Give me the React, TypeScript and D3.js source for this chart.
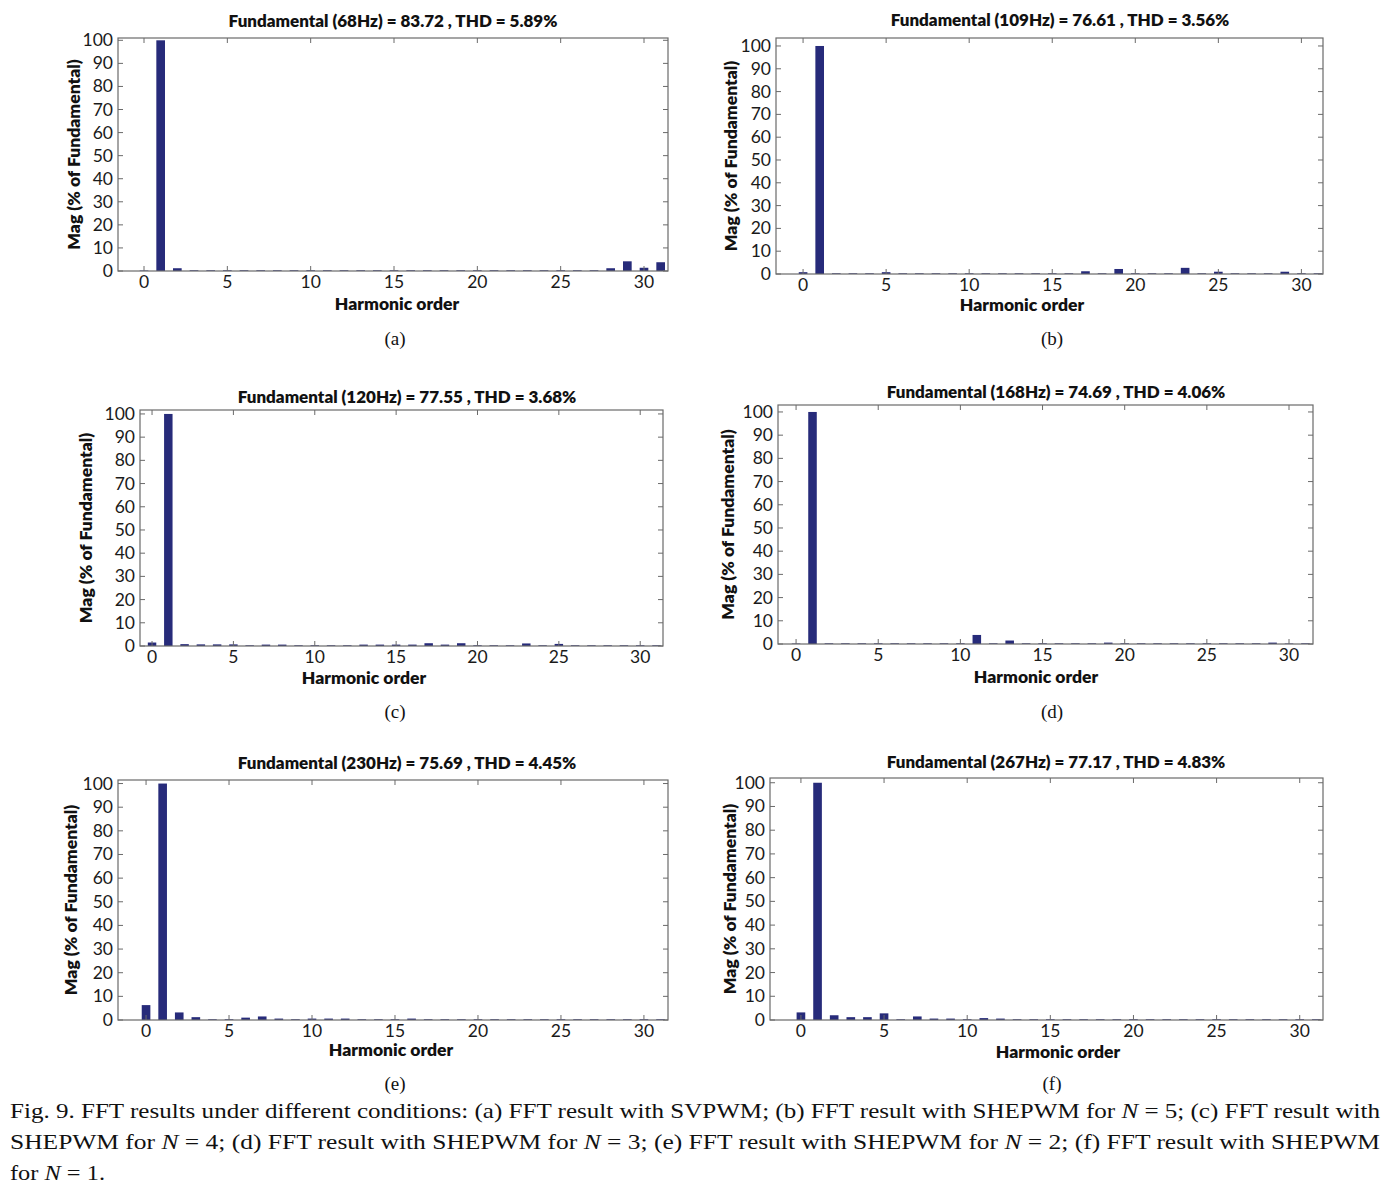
import * as d3 from 'd3';

// harmonic order 0..31 for every spectrum
const harmonicOrders = [0, 1, 2, 3, 4, 5, 6, 7, 8, 9, 10, 11, 12, 13, 14, 15, 16, 17, 18, 19, 20, 21, 22, 23, 24, 25, 26, 27, 28, 29, 30, 31];
const xTicks = [0, 5, 10, 15, 20, 25, 30];
const yTicks = [0, 10, 20, 30, 40, 50, 60, 70, 80, 90, 100];

const magA = [0.2, 100, 1.2, 0.3, 0.3, 0.3, 0.3, 0.3, 0.3, 0.3, 0.3, 0.3, 0.3, 0.3, 0.3, 0.3, 0.3, 0.3, 0.3, 0.3, 0.3, 0.3, 0.3, 0.3, 0.3, 0.3, 0.3, 0.3, 1.2, 4.2, 1.4, 3.8];
const magB = [0.8, 100, 0.3, 0.3, 0.3, 0.8, 0.3, 0.3, 0.3, 0.3, 0.3, 0.3, 0.3, 0.3, 0.3, 0.3, 0.3, 1.2, 0.3, 2.2, 0.3, 0.3, 0.3, 2.7, 0.3, 1.0, 0.3, 0.3, 0.3, 1.0, 0.3, 0.3];
const magC = [1.5, 100, 0.8, 0.7, 0.7, 0.7, 0.3, 0.6, 0.6, 0.3, 0.3, 0.3, 0.3, 0.6, 0.6, 0.6, 0.6, 1.2, 0.6, 1.2, 0.3, 0.3, 0.3, 1.1, 0.3, 0.9, 0.3, 0.3, 0.3, 0.3, 0.3, 0.3];
const magD = [0.2, 100, 0.3, 0.3, 0.3, 0.3, 0.3, 0.3, 0.3, 0.3, 0.3, 3.9, 0.3, 1.5, 0.3, 0.3, 0.3, 0.3, 0.3, 0.6, 0.3, 0.3, 0.3, 0.3, 0.3, 0.3, 0.3, 0.3, 0.3, 0.6, 0.2, 0.3];
const magE = [6.3, 100, 3.2, 1.2, 0.3, 0.3, 1.0, 1.5, 0.6, 0.3, 0.6, 0.6, 0.6, 0.3, 0.3, 0.3, 0.6, 0.3, 0.3, 0.3, 0.3, 0.3, 0.3, 0.3, 0.3, 0.3, 0.3, 0.3, 0.3, 0.3, 0.3, 0.3];
const magF = [3.2, 100, 2.0, 1.2, 1.2, 2.8, 0.3, 1.5, 0.6, 0.6, 0.3, 0.8, 0.6, 0.3, 0.3, 0.3, 0.3, 0.3, 0.3, 0.3, 0.3, 0.3, 0.3, 0.3, 0.3, 0.3, 0.3, 0.3, 0.3, 0.3, 0.3, 0.3];

const titles = [
  'Fundamental (68Hz) = 83.72 , THD = 5.89%',
  'Fundamental (109Hz) = 76.61 , THD = 3.56%',
  'Fundamental (120Hz) = 77.55 , THD = 3.68%',
  'Fundamental (168Hz) = 74.69 , THD = 4.06%',
  'Fundamental (230Hz) = 75.69 , THD = 4.45%',
  'Fundamental (267Hz) = 77.17 , THD = 4.83%',
];
const subLabels = ['(a)', '(b)', '(c)', '(d)', '(e)', '(f)'];
const series = [magA, magB, magC, magD, magE, magF];

// panel frames in page pixels
const frames = [
  { l: 118, r: 668, t: 38, b: 271, x0: -1.56, x1: 31.44, yMax: 101, titleX: 393, titleY: 27, ylabX: 80, xlabX: 397, xlabY: 310, capY: 345 },
  { l: 776, r: 1323, t: 38, b: 274, x0: -1.63, x1: 31.3, yMax: 103.5, titleX: 1060, titleY: 26, ylabX: 737, xlabX: 1022, xlabY: 311, capY: 345 },
  { l: 140, r: 663, t: 410, b: 646, x0: -0.74, x1: 31.4, yMax: 101.7, titleX: 407, titleY: 403, ylabX: 92, xlabX: 364, xlabY: 684, capY: 718 },
  { l: 778, r: 1313, t: 405, b: 644, x0: -1.1, x1: 31.46, yMax: 103, titleX: 1056, titleY: 398, ylabX: 734, xlabX: 1036, xlabY: 683, capY: 718 },
  { l: 118, r: 668, t: 780, b: 1020, x0: -1.69, x1: 31.45, yMax: 101.5, titleX: 407, titleY: 769, ylabX: 77, xlabX: 391, xlabY: 1056, capY: 1090 },
  { l: 770, r: 1323, t: 778, b: 1020, x0: -1.86, x1: 31.4, yMax: 102, titleX: 1056, titleY: 768, ylabX: 736, xlabX: 1058, xlabY: 1058, capY: 1090 },
];

const sans = 'Lato, "Open Sans", sans-serif';
const serif = '"Liberation Serif", "DejaVu Serif", serif';
const barColor = '#272b7a';
const axisColor = '#6a6a6a';

type Frame = (typeof frames)[number];

const Panel = ({ f, values, title, sub }: { f: Frame; values: number[]; title: string; sub: string }) => {
  const x = d3.scaleLinear().domain([f.x0, f.x1]).range([f.l, f.r]);
  const y = d3.scaleLinear().domain([0, f.yMax]).range([f.b, f.t]);
  const bw = x(0.52) - x(0);
  const tick = 5;
  const yMid = (f.t + f.b) / 2;

  return (
    <g>
      {values.map((v, i) => (
        <rect key={i} x={x(harmonicOrders[i]) - bw / 2} y={y(v)} width={bw} height={Math.max(0, y(0) - y(v))} fill={barColor} />
      ))}
      <rect x={f.l} y={f.t} width={f.r - f.l} height={f.b - f.t} fill="none" stroke={axisColor} strokeWidth={1.2} />
      {xTicks.map((t) => (
        <g key={'x' + t}>
          <line x1={x(t)} x2={x(t)} y1={f.b} y2={f.b - tick} stroke={axisColor} />
          <line x1={x(t)} x2={x(t)} y1={f.t} y2={f.t + tick} stroke={axisColor} />
          <text x={x(t)} y={f.b + 17} textAnchor="middle" fontFamily={sans} fontSize={17.5} fill="#1a1a1a">{t}</text>
        </g>
      ))}
      {yTicks.map((t) => (
        <g key={'y' + t}>
          <line x1={f.l} x2={f.l + tick} y1={y(t)} y2={y(t)} stroke={axisColor} />
          <line x1={f.r} x2={f.r - tick} y1={y(t)} y2={y(t)} stroke={axisColor} />
          <text x={f.l - 5} y={y(t) + 6} textAnchor="end" fontFamily={sans} fontSize={17.5} fill="#1a1a1a">{t}</text>
        </g>
      ))}
      <text x={f.titleX} y={f.titleY} textAnchor="middle" fontFamily={sans} fontWeight={800} fontSize={17} fill="#111">{title}</text>
      <text x={f.xlabX} y={f.xlabY} textAnchor="middle" fontFamily={sans} fontWeight={800} fontSize={17.5} fill="#111">Harmonic order</text>
      <text transform={`translate(${f.ylabX},${yMid}) rotate(-90)`} textAnchor="middle" fontFamily={sans} fontWeight={800} fontSize={17.5} fill="#111">Mag (% of Fundamental)</text>
      <text x={(f.l < 700 ? 395 : 1052)} y={f.capY} textAnchor="middle" fontFamily={serif} fontSize={19} fill="#111">{sub}</text>
    </g>
  );
};

const App = () => {
  return (
    <svg width={1399} height={1192} style={{ position: 'absolute', left: 0, top: 0, background: '#fff' }}>
      <rect width={1399} height={1192} fill="#fff" />
      {frames.map((f, i) => (
        <Panel key={i} f={f} values={series[i]} title={titles[i]} sub={subLabels[i]} />
      ))}
      <g fontFamily={serif} fontSize={22} fill="#111">
        <text x={10} y={1118} textLength={1370} lengthAdjust="spacingAndGlyphs">
          Fig. 9. FFT results under different conditions: (a) FFT result with SVPWM; (b) FFT result with SHEPWM for <tspan fontStyle="italic">N</tspan> = 5; (c) FFT result with
        </text>
        <text x={10} y={1149} textLength={1370} lengthAdjust="spacingAndGlyphs">
          SHEPWM for <tspan fontStyle="italic">N</tspan> = 4; (d) FFT result with SHEPWM for <tspan fontStyle="italic">N</tspan> = 3; (e) FFT result with SHEPWM for <tspan fontStyle="italic">N</tspan> = 2; (f) FFT result with SHEPWM
        </text>
        <text x={10} y={1180} textLength={95} lengthAdjust="spacingAndGlyphs">
          for <tspan fontStyle="italic">N</tspan> = 1.
        </text>
      </g>
    </svg>
  );
};

export default App;
